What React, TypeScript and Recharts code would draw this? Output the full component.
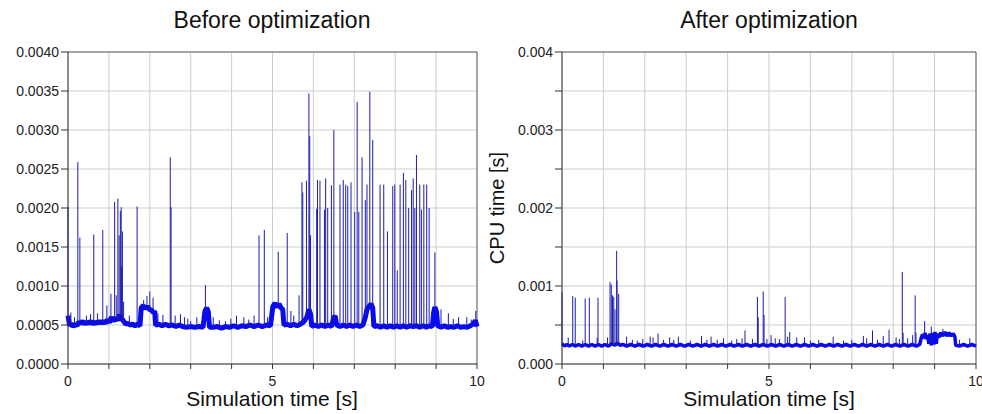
import { LineChart, Line, XAxis, YAxis, CartesianGrid, ReferenceLine } from "recharts";

// baseline band of the trace [time s, cpu time s]
const beforeBand: [number, number][] = [
  [0.0, 0.00062], [0.04, 0.00049], [0.08, 0.00052], [0.12, 0.00048], [0.17, 0.00051], [0.22, 0.00049],
  [0.26, 0.00054], [0.31, 0.00052], [0.36, 0.00055], [0.41, 0.00051], [0.46, 0.00054], [0.51, 0.00052],
  [0.56, 0.00055], [0.61, 0.00051], [0.66, 0.00054], [0.71, 0.00052], [0.76, 0.00055], [0.81, 0.00052],
  [0.86, 0.00055], [0.91, 0.00052], [0.96, 0.00057], [1.01, 0.00053], [1.06, 0.0006], [1.11, 0.00055],
  [1.16, 0.00059], [1.21, 0.00056], [1.26, 0.00063], [1.31, 0.00058], [1.36, 0.00055], [1.41, 0.00051],
  [1.46, 0.00052], [1.52, 0.0005], [1.58, 0.00051], [1.64, 0.00049], [1.7, 0.00051], [1.76, 0.00049],
  [1.79, 0.00072], [1.84, 0.00075], [1.89, 0.00071], [1.94, 0.00074], [1.99, 0.0007], [2.04, 0.00069],
  [2.09, 0.00066], [2.12, 0.00068],
  [2.14, 0.0005], [2.22, 0.00051], [2.3, 0.00049], [2.38, 0.00051], [2.46, 0.00049], [2.55, 0.0005],
  [2.64, 0.00048], [2.72, 0.0005], [2.8, 0.00048], [2.9, 0.00047], [3.0, 0.00048], [3.1, 0.00047],
  [3.2, 0.00048], [3.3, 0.00047],
  [3.35, 0.00068], [3.39, 0.00072], [3.43, 0.00067], [3.46, 0.00047],
  [3.55, 0.00047], [3.65, 0.00048], [3.75, 0.00046], [3.85, 0.00048], [3.95, 0.00047], [4.05, 0.00049],
  [4.15, 0.00047], [4.25, 0.00049], [4.35, 0.00048], [4.45, 0.0005], [4.55, 0.00048], [4.65, 0.0005],
  [4.75, 0.00048], [4.85, 0.0005], [4.95, 0.00049],
  [5.01, 0.00074], [5.06, 0.00078], [5.11, 0.00073], [5.16, 0.00077], [5.21, 0.00072], [5.25, 0.0007],
  [5.28, 0.0005], [5.36, 0.00051], [5.44, 0.00049], [5.52, 0.00051], [5.6, 0.00049], [5.68, 0.00051],
  [5.76, 0.00054], [5.84, 0.0006], [5.89, 0.0007], [5.93, 0.00064],
  [5.96, 0.00048], [6.04, 0.0005], [6.12, 0.00048], [6.2, 0.0005], [6.28, 0.00048], [6.36, 0.0005],
  [6.44, 0.00048], [6.49, 0.00058], [6.53, 0.00062], [6.57, 0.0005], [6.65, 0.00048], [6.73, 0.0005],
  [6.81, 0.00048], [6.89, 0.0005], [6.97, 0.00048], [7.05, 0.0005], [7.13, 0.00048], [7.21, 0.0005],
  [7.27, 0.0006], [7.31, 0.0007], [7.36, 0.00074], [7.41, 0.00077], [7.45, 0.00072],
  [7.48, 0.00048], [7.56, 0.00049], [7.64, 0.00047], [7.72, 0.00049], [7.8, 0.00047], [7.88, 0.00049],
  [7.96, 0.00047], [8.04, 0.00049], [8.12, 0.00047], [8.2, 0.00049], [8.28, 0.00047], [8.36, 0.00049],
  [8.44, 0.00048], [8.52, 0.00049], [8.6, 0.00047], [8.68, 0.00049], [8.76, 0.00047], [8.84, 0.00049],
  [8.91, 0.00048],
  [8.94, 0.00066], [8.97, 0.00073], [9.01, 0.00067],
  [9.04, 0.00049], [9.12, 0.00047], [9.2, 0.00049], [9.28, 0.00047], [9.36, 0.00048], [9.44, 0.00047],
  [9.52, 0.00049], [9.6, 0.00047], [9.68, 0.00048], [9.76, 0.00047], [9.84, 0.00049], [9.92, 0.00052],
  [9.96, 0.00056], [10.0, 0.00048],
];

// spikes [time s, peak cpu time s]
const beforeSpikes: [number, number][] = [
  [0.0, 0.00201], [0.07, 0.00066], [0.16, 0.0006], [0.24, 0.00259], [0.29, 0.00162], [0.45, 0.00062],
  [0.55, 0.00064], [0.63, 0.00166], [0.72, 0.00065], [0.85, 0.00172], [0.95, 0.00075], [1.05, 0.0009],
  [1.14, 0.00208], [1.18, 0.00088], [1.22, 0.00212], [1.25, 0.00165], [1.28, 0.00196], [1.3, 0.00201],
  [1.31, 0.00125], [1.33, 0.0017], [1.36, 0.0008], [1.5, 0.00062], [1.69, 0.00202], [1.85, 0.00082],
  [1.93, 0.00087], [2.0, 0.00093], [2.08, 0.00085], [2.2, 0.00065], [2.32, 0.00063], [2.5, 0.00265],
  [2.52, 0.00201], [2.62, 0.00062], [2.75, 0.00064], [2.85, 0.0006], [2.93, 0.00058], [3.0, 0.00055],
  [3.15, 0.0006], [3.36, 0.00101], [3.55, 0.0006], [3.7, 0.00056], [3.85, 0.00055], [3.98, 0.00058],
  [4.12, 0.00062], [4.3, 0.0006], [4.42, 0.00057], [4.55, 0.00062], [4.67, 0.00165], [4.8, 0.00172],
  [4.88, 0.0006], [5.14, 0.00144], [5.36, 0.00168], [5.45, 0.00068], [5.52, 0.00062], [5.65, 0.00088],
  [5.72, 0.00233], [5.74, 0.0022], [5.83, 0.00235], [5.89, 0.00347], [5.91, 0.00292], [5.93, 0.00165],
  [6.08, 0.00199], [6.1, 0.00236], [6.16, 0.00235], [6.27, 0.00198], [6.3, 0.00238], [6.35, 0.002],
  [6.44, 0.00229], [6.5, 0.003], [6.65, 0.0023], [6.73, 0.00236], [6.79, 0.0023], [6.84, 0.00228],
  [6.92, 0.00233], [7.01, 0.00195], [7.07, 0.00336], [7.11, 0.00195], [7.19, 0.00265], [7.27, 0.0021],
  [7.31, 0.0023], [7.38, 0.00349], [7.45, 0.00287], [7.63, 0.0023], [7.72, 0.0023], [7.81, 0.0017],
  [7.94, 0.00228], [7.99, 0.0023], [8.05, 0.0012], [8.12, 0.0023], [8.2, 0.00245], [8.26, 0.00236],
  [8.33, 0.002], [8.4, 0.00223], [8.44, 0.00238], [8.48, 0.002], [8.52, 0.00268], [8.6, 0.0023],
  [8.64, 0.00198], [8.7, 0.0023], [8.77, 0.0023], [8.83, 0.002], [8.97, 0.00143], [9.12, 0.0007],
  [9.3, 0.00065], [9.42, 0.00058], [9.55, 0.0006], [9.75, 0.0006], [9.86, 0.00057], [9.97, 0.00068],
];

const afterBand: [number, number][] = [
  [0.0, 0.00026], [0.06, 0.00023], [0.12, 0.00025], [0.18, 0.00023], [0.25, 0.00025], [0.32, 0.00023],
  [0.4, 0.00025], [0.48, 0.00023], [0.56, 0.00025], [0.64, 0.00023], [0.72, 0.00025], [0.8, 0.00023],
  [0.88, 0.00025], [0.96, 0.00023], [1.04, 0.00025], [1.12, 0.00023], [1.2, 0.00026], [1.28, 0.00024],
  [1.34, 0.00027], [1.4, 0.00024], [1.48, 0.00025], [1.56, 0.00023], [1.66, 0.00025], [1.76, 0.00023],
  [1.86, 0.00025], [1.96, 0.00023], [2.06, 0.00025], [2.16, 0.00023], [2.26, 0.00025], [2.36, 0.00023],
  [2.46, 0.00025], [2.56, 0.00023], [2.66, 0.00025], [2.76, 0.00023], [2.86, 0.00025], [2.96, 0.00023],
  [3.06, 0.00025], [3.16, 0.00023], [3.26, 0.00025], [3.36, 0.00023], [3.46, 0.00025], [3.56, 0.00023],
  [3.66, 0.00025], [3.76, 0.00023], [3.86, 0.00025], [3.96, 0.00023], [4.06, 0.00025], [4.16, 0.00023],
  [4.26, 0.00025], [4.36, 0.00023], [4.46, 0.00025], [4.56, 0.00023], [4.66, 0.00025], [4.76, 0.00023],
  [4.86, 0.00025], [4.96, 0.00023], [5.06, 0.00025], [5.16, 0.00023], [5.26, 0.00025], [5.36, 0.00023],
  [5.46, 0.00025], [5.56, 0.00023], [5.66, 0.00025], [5.76, 0.00023], [5.86, 0.00025], [5.96, 0.00023],
  [6.06, 0.00025], [6.16, 0.00023], [6.26, 0.00025], [6.36, 0.00023], [6.46, 0.00025], [6.56, 0.00023],
  [6.66, 0.00025], [6.76, 0.00023], [6.86, 0.00025], [6.96, 0.00023], [7.06, 0.00025], [7.16, 0.00023],
  [7.26, 0.00025], [7.36, 0.00023], [7.46, 0.00025], [7.56, 0.00023], [7.66, 0.00025], [7.76, 0.00023],
  [7.86, 0.00025], [7.96, 0.00023], [8.06, 0.00025], [8.16, 0.00023], [8.26, 0.00025], [8.36, 0.00023],
  [8.46, 0.00025], [8.56, 0.00023], [8.64, 0.00025],
  [8.68, 0.00034], [8.71, 0.00038], [8.74, 0.00033], [8.77, 0.0004], [8.8, 0.00032], [8.83, 0.00037],
  [8.86, 0.00026], [8.89, 0.00039], [8.92, 0.00024], [8.95, 0.0004], [8.98, 0.00025], [9.01, 0.00041],
  [9.04, 0.00026], [9.07, 0.00039], [9.1, 0.00034], [9.15, 0.0004], [9.2, 0.00036], [9.25, 0.00041],
  [9.3, 0.00036], [9.35, 0.0004], [9.4, 0.00036], [9.45, 0.00039], [9.49, 0.00035],
  [9.51, 0.00024], [9.6, 0.00023], [9.7, 0.00025], [9.8, 0.00023], [9.9, 0.00025], [10.0, 0.00023],
];

const afterSpikes: [number, number][] = [
  [0.0, 0.00092], [0.15, 0.00034], [0.26, 0.00087], [0.32, 0.00085], [0.5, 0.0003], [0.56, 0.00084],
  [0.66, 0.00085], [0.85, 0.00034], [0.87, 0.00085], [1.1, 0.00034], [1.16, 0.00105], [1.19, 0.00102],
  [1.22, 0.00088], [1.25, 0.00086], [1.28, 0.0007], [1.32, 0.00145], [1.33, 0.00107], [1.37, 0.0009],
  [1.56, 0.00035], [1.7, 0.00031], [1.82, 0.0003], [1.95, 0.00032], [2.13, 0.00035], [2.2, 0.00034],
  [2.32, 0.00039], [2.45, 0.00031], [2.6, 0.00034], [2.7, 0.00031], [2.81, 0.00035], [3.1, 0.0003],
  [3.37, 0.00036], [3.5, 0.00031], [3.6, 0.00035], [3.75, 0.00031], [3.9, 0.00033], [4.1, 0.0003],
  [4.22, 0.00032], [4.35, 0.00033], [4.42, 0.00043], [4.6, 0.00032], [4.72, 0.00086], [4.74, 0.0006],
  [4.86, 0.00093], [4.88, 0.00063], [4.95, 0.00032], [5.05, 0.00037], [5.15, 0.00033], [5.25, 0.00032],
  [5.39, 0.00086], [5.45, 0.00035], [5.5, 0.00041], [5.67, 0.00034], [5.86, 0.00034], [6.0, 0.0003],
  [6.2, 0.00031], [6.55, 0.00035], [6.8, 0.0003], [7.0, 0.00031], [7.28, 0.00036], [7.36, 0.00033],
  [7.5, 0.00043], [7.62, 0.00031], [7.76, 0.00036], [7.9, 0.00044], [8.07, 0.00034], [8.15, 0.00032],
  [8.22, 0.00118], [8.24, 0.0004], [8.35, 0.00033], [8.47, 0.00037], [8.53, 0.00088], [8.55, 0.0004],
  [8.76, 0.00055], [8.92, 0.00048], [9.2, 0.00045], [9.6, 0.00031], [9.85, 0.00033],
];

const xTicks = [0, 1, 2, 3, 4, 5, 6, 7, 8, 9, 10];
const xLabels = [0, 5, 10];
const yTicks = [0, 0.0005, 0.001, 0.0015, 0.002, 0.0025, 0.003, 0.0035, 0.004];

const FONT = '"Liberation Sans", Arial, sans-serif';
const TRACE = "#0a0aee";

// last band value at or before t, used as the foot of each spike
function footAt(band: [number, number][], t: number) {
  let v = band[0][1];
  for (const [bt, bv] of band) {
    if (bt <= t) v = bv;
    else break;
  }
  return v;
}

function Panel({ band, spikes, width, margin, yWidth, yFormat, bandWidth }: any) {
  const bandData = band.map(([t, v]: [number, number]) => ({ t, v }));
  const spikeData = spikes.flatMap(([t, peak]: [number, number]) => [
    { t, v: footAt(band, t) },
    { t, v: peak },
    { t, v: null },
  ]);

  return (
    <LineChart width={width} height={414} margin={margin}>
      <CartesianGrid stroke="#cdcdcd" />
      <XAxis
        dataKey="t"
        type="number"
        domain={[0, 10]}
        ticks={xTicks}
        interval={0}
        height={50}
        tickFormatter={(v) => (xLabels.includes(v) ? String(v) : "")}
        tick={{ fill: "#222", fontSize: 14 }}
        tickSize={5}
        tickMargin={7}
        stroke="#333"
        allowDuplicatedCategory={false}
      />
      <YAxis
        type="number"
        domain={[0, 0.004]}
        ticks={yTicks}
        interval={0}
        width={yWidth}
        tickFormatter={yFormat}
        tick={{ fill: "#222", fontSize: 14 }}
        tickSize={7}
        tickMargin={2}
        stroke="#333"
      />
      <ReferenceLine y={0.004} stroke="#666" />
      <ReferenceLine x={10} stroke="#666" />
      <Line
        data={bandData}
        dataKey="v"
        stroke={TRACE}
        strokeWidth={bandWidth}
        strokeLinejoin="bevel"
        dot={false}
        isAnimationActive={false}
      />
      <Line
        data={spikeData}
        dataKey="v"
        stroke="#1c1cb0"
        strokeWidth={1}
        dot={false}
        connectNulls={false}
        isAnimationActive={false}
      />
    </LineChart>
  );
}

const textStyle = { position: "absolute" as const, color: "#111", whiteSpace: "nowrap" as const, textAlign: "center" as const };

export default function App() {
  return (
    <div style={{ position: "absolute", left: 0, top: 0, width: 982, height: 414, background: "#fff", fontFamily: FONT }}>
      <div style={{ position: "absolute", left: 0, top: 0 }}>
        <Panel
          band={beforeBand}
          spikes={beforeSpikes}
          width={490}
          margin={{ top: 52, right: 13, bottom: 0, left: 8 }}
          yWidth={60}
          bandWidth={5}
          yFormat={(v: number) => v.toFixed(4)}
        />
      </div>
      <div style={{ position: "absolute", left: 490, top: 0 }}>
        <Panel
          band={afterBand}
          spikes={afterSpikes}
          width={492}
          margin={{ top: 52, right: 6, bottom: 0, left: 0 }}
          yWidth={72}
          bandWidth={3.5}
          yFormat={(v: number) => (Math.round(v * 10000) % 10 === 0 ? v.toFixed(3) : "")}
        />
      </div>

      <div style={{ ...textStyle, left: 72, width: 400, top: 9, fontSize: 23, lineHeight: "23px" }}>Before optimization</div>
      <div style={{ ...textStyle, left: 569, width: 400, top: 9, fontSize: 23, lineHeight: "23px" }}>After optimization</div>
      <div style={{ ...textStyle, left: 72, width: 400, top: 388, fontSize: 21, lineHeight: "21px" }}>Simulation time [s]</div>
      <div style={{ ...textStyle, left: 569, width: 400, top: 388, fontSize: 21, lineHeight: "21px" }}>Simulation time [s]</div>
      <div
        style={{
          ...textStyle,
          left: 497 - 100,
          width: 200,
          top: 208 - 10,
          fontSize: 20,
          lineHeight: "20px",
          transform: "rotate(-90deg)",
        }}
      >
        CPU time [s]
      </div>
    </div>
  );
}
